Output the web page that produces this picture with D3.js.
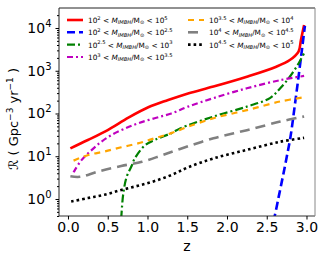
<!DOCTYPE html>
<html>
<head>
<meta charset="utf-8">
<script src="https://cdn.jsdelivr.net/npm/d3@7"></script>
<style>
  body { margin: 0; background: #fff; }
  text { font-family: "DejaVu Sans", sans-serif; }
</style>
</head>
<body>
<div id="chart"></div>
<script>
// ---------------------------------------------------------------
// data (z, rate in Gpc^-3 yr^-1)

let zRed = [0.03, 0.25, 0.5, 0.76, 1.01, 1.26, 1.51, 1.83, 2.25, 2.62, 2.79, 2.9, 2.93, 2.97];
let rRed = [15.3, 24, 41, 80, 140, 207, 295, 427, 725, 1245, 1780, 2820, 5250, 11750];

let zBlue = [2.58, 2.6, 2.65, 2.7, 2.75, 2.8, 2.85, 2.9, 2.95, 2.98];
let rBlue = [0.3, 0.4, 1.12, 3.16, 9.3, 29.5, 141, 724, 3980, 11200];

let zGreen = [0.67, 0.675, 0.696, 0.738, 0.8, 0.84, 0.97, 1.09, 1.3, 1.41, 1.83, 2.25, 2.54, 2.67, 2.79, 2.9, 2.97];
let rGreen = [0.35, 0.5, 1.35, 3.3, 5.9, 8.9, 18.2, 24, 34.7, 44.7, 85, 145, 229, 389, 724, 1480, 2570];

let zMagenta = [0.07, 0.088, 0.17, 0.3, 0.42, 0.55, 0.72, 0.88, 1.09, 1.3, 1.51, 1.83, 2.25, 2.67, 2.97];
let rMagenta = [4.2, 4.8, 8.1, 14.1, 21.9, 31.6, 44.7, 58.9, 77.6, 100, 145, 229, 389, 603, 759];

let zOrange = [0.07, 0.255, 0.46, 0.67, 0.88, 1.09, 1.3, 1.51, 1.83, 2.25, 2.67, 2.97];
let rOrange = [7.9, 10.7, 12.9, 16.2, 20, 26.3, 34.7, 49, 77.6, 120, 191, 240];

let zGrey = [0.03, 0.15, 0.38, 0.67, 0.93, 1.18, 1.41, 1.83, 2.25, 2.67, 2.97];
let rGrey = [3.4, 3.3, 4.4, 5.9, 7.4, 10.5, 14.8, 26.3, 40.7, 64.6, 85];

let zBlack = [0.04, 0.25, 0.46, 0.67, 0.88, 1.09, 1.3, 1.51, 1.83, 2.25, 2.67, 2.97];
let rBlack = [0.87, 1.05, 1.26, 1.62, 2.04, 2.63, 3.63, 5.5, 8.9, 14.1, 21.9, 26.9];

// mass range exponents for the legend: [low, high]
let massLow  = ["2", "2", "2.5", "3", "3.5", "4", "4.5"];
let massHigh = ["5", "2.5", "3", "3.5", "4", "4.5", "5"];

let xTicks = [0, 0.5, 1, 1.5, 2, 2.5, 3];
let yMajor = [1, 10, 100, 1000, 10000];

// ---------------------------------------------------------------
// series styles (same order as the legend)
let series = [
  { z: zRed,     r: rRed,     color: "#ff0000", width: 2.6, dash: null },
  { z: zBlue,    r: rBlue,    color: "#0000ff", width: 2.6, dash: "8,4" },
  { z: zGreen,   r: rGreen,   color: "#008000", width: 2.2, dash: "8,3,2,3" },
  { z: zMagenta, r: rMagenta, color: "#bf00bf", width: 2.2, dash: "6,3,2,3" },
  { z: zOrange,  r: rOrange,  color: "#ffa500", width: 2.2, dash: "6,5" },
  { z: zGrey,    r: rGrey,    color: "#808080", width: 2.6, dash: "10,6" },
  { z: zBlack,   r: rBlack,   color: "#000000", width: 2.6, dash: "2.6,3" }
];

let W = 324, H = 260;
let mLeft = 59, mRight = 315, mTop = 8, mBottom = 216;

let x = d3.scaleLinear().domain([-0.113, 3.107]).range([mLeft, mRight]);
let y = d3.scaleLog().domain([Math.pow(10, -0.398), Math.pow(10, 4.468)]).range([mBottom, mTop]);

let svg = d3.select("#chart").append("svg")
  .attr("width", W)
  .attr("height", H);

svg.append("defs").append("clipPath").attr("id", "clip")
  .append("rect")
  .attr("x", mLeft).attr("y", mTop)
  .attr("width", mRight - mLeft).attr("height", mBottom - mTop);

// curves
let line = d3.line()
  .x(d => x(d[0]))
  .y(d => y(d[1]))
  .curve(d3.curveCatmullRom.alpha(0.5));

let curves = svg.append("g").attr("clip-path", "url(#clip)");
series.forEach(function(s) {
  let pts = s.z.map((z, i) => [z, s.r[i]]);
  curves.append("path")
    .attr("d", line(pts))
    .attr("fill", "none")
    .attr("stroke", s.color)
    .attr("stroke-width", s.width)
    .attr("stroke-dasharray", s.dash);
});

// frame
svg.append("line").attr("x1", mLeft).attr("x2", mRight).attr("y1", mTop).attr("y2", mTop).attr("stroke", "#222");
svg.append("line").attr("x1", mLeft).attr("x2", mLeft).attr("y1", mTop).attr("y2", mBottom).attr("stroke", "#222");
svg.append("line").attr("x1", mLeft).attr("x2", mRight).attr("y1", mBottom).attr("y2", mBottom).attr("stroke", "#333");
svg.append("line").attr("x1", mRight).attr("x2", mRight).attr("y1", mTop).attr("y2", mBottom).attr("stroke", "#888");

// x axis
let xAxis = svg.append("g")
  .attr("transform", "translate(0," + mBottom + ")")
  .call(d3.axisBottom(x).tickValues(xTicks).tickSize(3.5).tickPadding(3).tickFormat(d3.format(".1f")));
xAxis.select(".domain").remove();
xAxis.selectAll("text").attr("font-size", 14).attr("fill", "#000").attr("font-family", "DejaVu Sans");

// y axis minor ticks
let yMinorAxis = svg.append("g")
  .attr("transform", "translate(" + mLeft + ",0)")
  .call(d3.axisLeft(y).tickValues(y.ticks().filter(v => yMajor.indexOf(v) < 0)).tickSize(2).tickFormat(""));
yMinorAxis.select(".domain").remove();

// y axis major ticks with 10^n labels
let yAxis = svg.append("g")
  .attr("transform", "translate(" + mLeft + ",0)")
  .call(d3.axisLeft(y).tickValues(yMajor).tickSize(3.5).tickPadding(4).tickFormat(""));
yAxis.select(".domain").remove();
yAxis.selectAll(".tick").each(function(d) {
  let t = d3.select(this).select("text")
    .attr("font-size", 14).attr("fill", "#000").attr("font-family", "DejaVu Sans");
  t.append("tspan").text("10");
  t.append("tspan").attr("font-size", 10).attr("dy", -6).text(Math.round(Math.log10(d)));
});

// axis labels
svg.append("text")
  .attr("x", (mLeft + mRight) / 2)
  .attr("y", 251)
  .attr("text-anchor", "middle")
  .attr("font-size", 14)
  .text("z");

let yLabel = svg.append("text")
  .attr("transform", "translate(18,119) rotate(-90)")
  .attr("text-anchor", "middle")
  .attr("font-size", 13);
yLabel.append("tspan").attr("font-style", "italic").text("\u211B");
yLabel.append("tspan").text(" ( Gpc");
yLabel.append("tspan").attr("font-size", 9).attr("dy", -5).text("\u22123");
yLabel.append("tspan").attr("dy", 5).text(" yr");
yLabel.append("tspan").attr("font-size", 9).attr("dy", -5).text("\u22121");
yLabel.append("tspan").attr("dy", 5).text(" )");

// legend
function legendLabel(g, lo, hi) {
  let t = g.append("text").attr("x", 21).attr("y", 3).attr("font-size", 7.3);
  t.append("tspan").text("10");
  t.append("tspan").attr("font-size", 5.2).attr("dy", -3.2).text(lo);
  t.append("tspan").attr("dy", 3.2).text(" < ");
  t.append("tspan").attr("font-style", "italic").text("M");
  t.append("tspan").attr("font-size", 5.2).attr("font-style", "italic").attr("dy", 1.4).text("IMBH");
  t.append("tspan").attr("dy", -1.4).text("/M");
  t.append("tspan").attr("font-size", 5.2).attr("dy", 1.4).text("\u2299");
  t.append("tspan").attr("dy", -1.4).text(" < 10");
  t.append("tspan").attr("font-size", 5.2).attr("dy", -3.2).text(hi);
}

let legendCols = [67, 188];
let legendRows = [20, 32.3, 44.6, 57];
series.forEach(function(s, i) {
  let col = i < 4 ? 0 : 1;
  let row = i < 4 ? i : i - 4;
  let g = svg.append("g")
    .attr("transform", "translate(" + legendCols[col] + "," + legendRows[row] + ")");
  g.append("line")
    .attr("x1", 0).attr("x2", 16)
    .attr("stroke", s.color)
    .attr("stroke-width", s.width)
    .attr("stroke-dasharray", s.dash);
  legendLabel(g, massLow[i], massHigh[i]);
});
</script>
</body>
</html>
